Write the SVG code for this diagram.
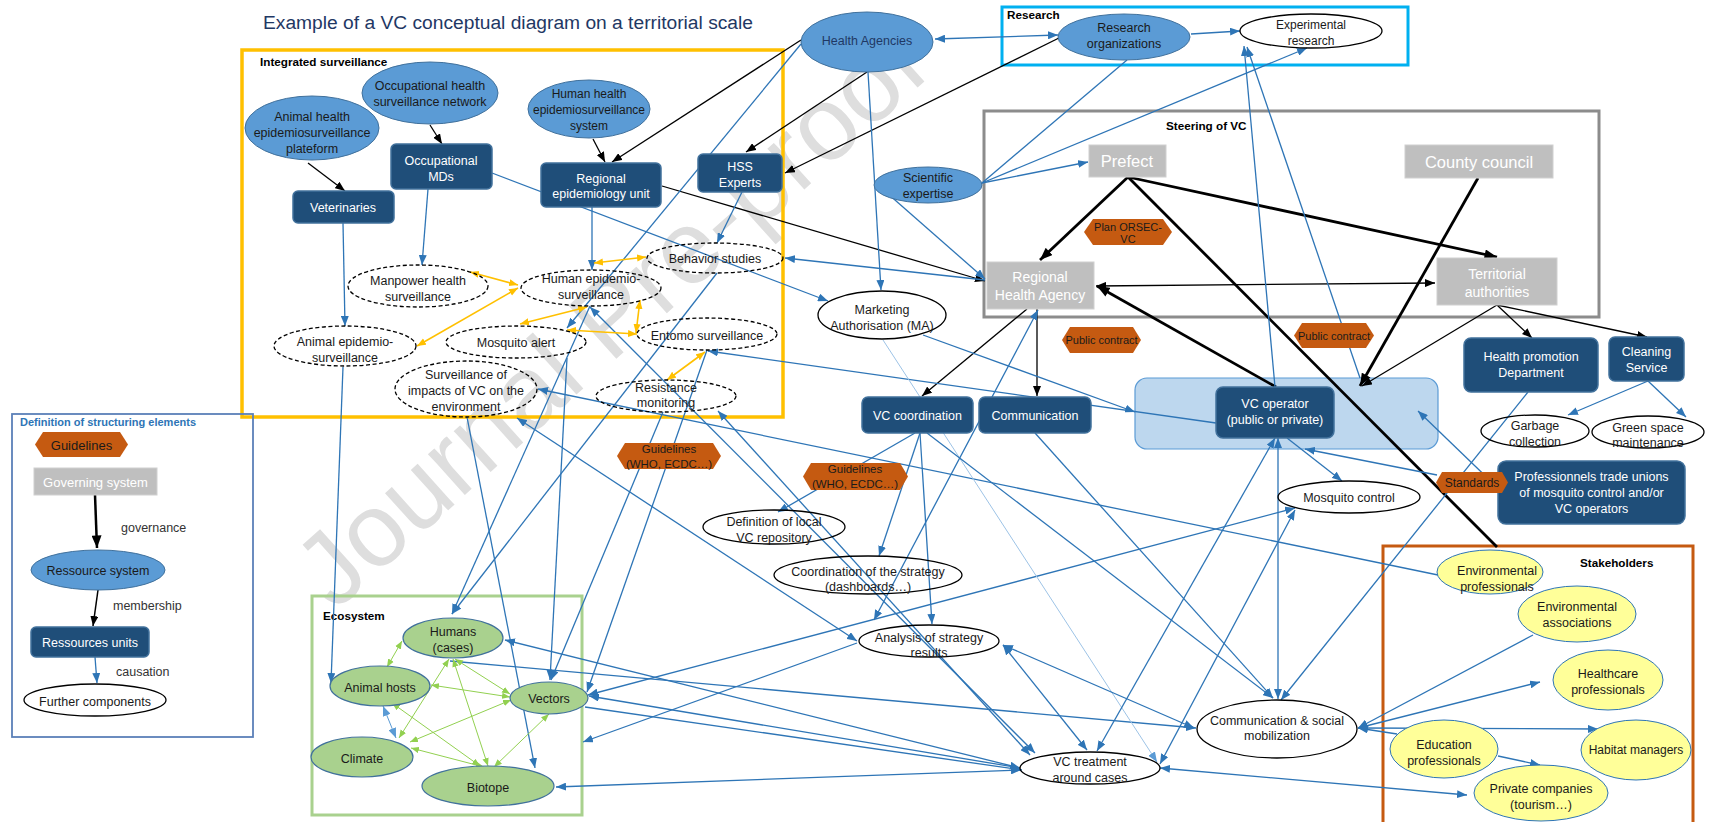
<svg xmlns="http://www.w3.org/2000/svg" width="1710" height="822" viewBox="0 0 1710 822">
<defs>
<marker id="ab" viewBox="0 0 10 8" refX="10" refY="4" markerWidth="10" markerHeight="8" markerUnits="userSpaceOnUse" orient="auto-start-reverse"><path d="M0,0L10,4L0,8z" fill="#2E75B6"/></marker>
<marker id="al" viewBox="0 0 10 8" refX="10" refY="4" markerWidth="10" markerHeight="8" markerUnits="userSpaceOnUse" orient="auto-start-reverse"><path d="M0,0L10,4L0,8z" fill="#5B9BD5"/></marker>
<marker id="ak" viewBox="0 0 10 8" refX="10" refY="4" markerWidth="10" markerHeight="8" markerUnits="userSpaceOnUse" orient="auto-start-reverse"><path d="M0,0L10,4L0,8z" fill="#000"/></marker>
<marker id="akt" viewBox="0 0 10 8" refX="10" refY="4" markerWidth="13" markerHeight="10" markerUnits="userSpaceOnUse" orient="auto-start-reverse"><path d="M0,0L10,4L0,8z" fill="#000"/></marker>
<marker id="ay" viewBox="0 0 10 8" refX="10" refY="4" markerWidth="9" markerHeight="8" markerUnits="userSpaceOnUse" orient="auto-start-reverse"><path d="M0,0L10,4L0,8z" fill="#FFC000"/></marker>
<marker id="ag" viewBox="0 0 10 8" refX="10" refY="4" markerWidth="8" markerHeight="7" markerUnits="userSpaceOnUse" orient="auto-start-reverse"><path d="M0,0L10,4L0,8z" fill="#92D050"/></marker>
</defs>
<style>
text{font-family:"Liberation Sans",Arial,sans-serif}
.t{font-size:12.5px;fill:#1a1a1a;text-anchor:middle}
.t12{font-size:12px;fill:#1a1a1a;text-anchor:middle}
.w{font-size:12.5px;fill:#fff;text-anchor:middle}
.s{font-size:11px;fill:#1a1a1a;text-anchor:middle}
.g{font-size:16.5px;fill:#fff;text-anchor:middle}
.gm{font-size:14px;fill:#fff;text-anchor:middle}
.lb{font-size:11.7px;font-weight:bold;fill:#000}
.lg{font-size:12.5px;fill:#333}
.mb{fill:#5B9BD5;stroke:#41719C;stroke-width:1}
.dk{fill:#1F4E79;stroke:#41719C;stroke-width:1.5}
.gy{fill:#BFBFBF;stroke:#D0D0D0;stroke-width:1}
.wh{fill:none;stroke:#000;stroke-width:1.3}
.ds{fill:none;stroke:#000;stroke-width:1.3;stroke-dasharray:4 2.5}
.or{fill:#C55A11}
.ye{fill:#FFFF99;stroke:#2E75B6;stroke-width:1}
.gn{fill:#A9D18E;stroke:#41719C;stroke-width:1.2}
.cb{fill:none;stroke:#2E75B6;stroke-width:1.3}
.cl{fill:none;stroke:#9DC3E6;stroke-width:1}
.ck{fill:none;stroke:#000;stroke-width:1.3}
.ckt{fill:none;stroke:#000;stroke-width:2.8}
.cy{fill:none;stroke:#FFC000;stroke-width:1.6}
.cg{fill:none;stroke:#92D050;stroke-width:1}
.fr{fill:none}
</style>

<text x="0" y="0" transform="translate(335,612) rotate(-42)" font-size="104" fill="#DEDEDE">Journal Pre-proof</text>

<text x="263" y="29" font-size="18" fill="#1F3864" textLength="490" lengthAdjust="spacingAndGlyphs">Example of a VC conceptual diagram on a territorial scale</text>

<g id="frames">
<g id="integrated-surveillance"><rect class="fr" x="242" y="50" width="541" height="367" stroke="#FFC000" stroke-width="3.5"/><text class="lb" x="260" y="66">Integrated surveillance</text></g>
<g id="research"><rect class="fr" x="1002" y="7" width="406" height="58" stroke="#00B0F0" stroke-width="3"/><text class="lb" x="1007" y="19">Research</text></g>
<g id="steering"><rect class="fr" x="984" y="111" width="615" height="206" stroke="#8C8C8C" stroke-width="3"/><text class="lb" x="1166" y="130">Steering of VC</text></g>
<g id="definition"><rect class="fr" x="12" y="414" width="241" height="323" stroke="#5B80B8" stroke-width="1.8"/><text x="20" y="426" font-size="11" font-weight="bold" fill="#2E75B6">Definition of structuring elements</text></g>
<g id="ecosystem"><rect class="fr" x="312" y="596" width="270" height="219" stroke="#A9D18E" stroke-width="3"/><text class="lb" x="323" y="620">Ecosystem</text></g>
<g id="stakeholders"><rect class="fr" x="1383" y="546" width="310" height="290" stroke="#C55A11" stroke-width="3"/><text class="lb" x="1580" y="567">Stakeholders</text></g>
<g id="vc-operator-area"><rect x="1135" y="378" width="303" height="71" rx="12" fill="#BDD7EE" stroke="#5B9BD5" stroke-width="1.2"/></g>
</g>

<g id="connectors">
<g id="black">
<path class="ck" d="M308,163L345,191" marker-end="url(#ak)"/>
<path class="ck" d="M430,125L442,144" marker-end="url(#ak)"/>
<path class="ck" d="M593,139L605,162" marker-end="url(#ak)"/>
<path class="ck" d="M801,40L612,162" marker-end="url(#ak)"/>
<path class="ck" d="M867,72L746,152" marker-end="url(#ak)"/>
<path class="ck" d="M1063,36L785,173" marker-end="url(#ak)"/>
<path class="ck" d="M662,186L985,281" marker-end="url(#ak)"/>
<path class="ck" d="M1096,286L1435,283" marker-start="url(#ak)" marker-end="url(#ak)"/>
<path class="ck" d="M1027,309L922,396" marker-end="url(#ak)"/>
<path class="ck" d="M1037,309L1037,396" marker-end="url(#ak)"/>
<path class="ck" d="M1497,305L1362,386" marker-end="url(#ak)"/>
<path class="ck" d="M1497,305L1532,338" marker-end="url(#ak)"/>
<path class="ck" d="M1497,305L1647,337" marker-end="url(#ak)"/>
<path class="ckt" d="M1128,177L1040,260" marker-end="url(#akt)"/>
<path class="ckt" d="M1128,177L1497,257" marker-end="url(#akt)"/>
<path class="ckt" d="M1128,177L1497,547"/>
<path class="ckt" d="M1478,178L1360,386" marker-end="url(#akt)"/>
<path class="ckt" d="M1276,387L1097,286" marker-end="url(#akt)"/>
</g>
<g id="blue">
<path class="cb" d="M343,223L345,326" marker-end="url(#ab)"/>
<path class="cb" d="M428,189L422,265" marker-end="url(#ab)"/>
<path class="cb" d="M492,173L828,301" marker-end="url(#ab)"/>
<path class="cb" d="M592,207L592,270" marker-end="url(#ab)"/>
<path class="cb" d="M742,192L717,243" marker-end="url(#ab)"/>
<path class="cb" d="M717,273L452,614" marker-end="url(#ab)"/>
<path class="cb" d="M590,306L452,614" marker-end="url(#ab)"/>
<path class="cb" d="M801,44L567,328" marker-end="url(#ab)"/>
<path class="cb" d="M868,72L881,290" marker-end="url(#ab)"/>
<path class="cb" d="M935,39L1058,35" marker-start="url(#ab)" marker-end="url(#ab)"/>
<path class="cb" d="M1191,34L1240,31" marker-end="url(#ab)"/>
<path class="cb" d="M1127,60L982,183"/>
<path class="cb" d="M982,183L1307,48" marker-end="url(#ab)"/>
<path class="cb" d="M982,183L1088,162" marker-end="url(#ab)"/>
<path class="cb" d="M887,193L985,279" marker-end="url(#ab)"/>
<path class="cb" d="M985,280L785,258" marker-end="url(#ab)"/>
<path class="cb" d="M1275,387L1244,46" marker-end="url(#ab)"/>
<path class="cb" d="M1360,378L1247,47" marker-end="url(#ab)"/>
<path class="cb" d="M923,335L1135,412" marker-end="url(#ab)"/>
<path class="cb" d="M1216,423L708,351" marker-end="url(#ab)"/>
<path class="cb" d="M1438,575L538,389" marker-end="url(#ab)"/>
<path class="cb" d="M343,367L331,683" marker-end="url(#ab)"/>
<path class="cb" d="M467,417L535,768" marker-end="url(#ab)"/>
<path class="cb" d="M567,358L550,680" marker-end="url(#ab)"/>
<path class="cb" d="M663,412L551,680" marker-end="url(#ab)"/>
<path class="cb" d="M707,350L587,692" marker-end="url(#ab)"/>
<path class="cb" d="M590,307L1035,753" marker-start="url(#ab)" marker-end="url(#ab)"/>
<path class="cb" d="M718,411L1030,755" marker-start="url(#ab)" marker-end="url(#ab)"/>
<path class="cb" d="M517,418L857,641" marker-start="url(#ab)" marker-end="url(#ab)"/>
<path class="cb" d="M857,643L583,742" marker-end="url(#ab)"/>
<path class="cb" d="M588,695L1295,508" marker-start="url(#ab)" marker-end="url(#ab)"/>
<path class="cb" d="M1020,768L505,640" marker-start="url(#ab)" marker-end="url(#ab)"/>
<path class="cb" d="M450,661L1196,728" marker-end="url(#ab)"/>
<path class="cb" d="M1020,768L589,696" marker-end="url(#ab)"/>
<path class="cb" d="M585,707L1022,770" marker-end="url(#ab)"/>
<path class="cb" d="M556,787L1021,770" marker-start="url(#ab)" marker-end="url(#ab)"/>
<path class="cb" d="M1160,768L1467,795" marker-start="url(#ab)" marker-end="url(#ab)"/>
<path class="cl" d="M883,340L1157,762" marker-end="url(#al)"/>
<path class="cb" d="M920,433L879,556" marker-end="url(#ab)"/>
<path class="cb" d="M920,433L932,624" marker-end="url(#ab)"/>
<path class="cb" d="M915,433L778,512" marker-end="url(#ab)"/>
<path class="cb" d="M927,433L1273,698" marker-end="url(#ab)"/>
<path class="cb" d="M1038,310L874,620" marker-start="url(#ab)" marker-end="url(#ab)"/>
<path class="cb" d="M1035,433L1273,698" marker-end="url(#ab)"/>
<path class="cb" d="M1278,438L1278,699" marker-start="url(#ab)" marker-end="url(#ab)"/>
<path class="cb" d="M1275,438L1097,751" marker-start="url(#ab)" marker-end="url(#ab)"/>
<path class="cb" d="M1295,510L1160,764" marker-start="url(#ab)" marker-end="url(#ab)"/>
<path class="cb" d="M1287,438L1342,481" marker-end="url(#ab)"/>
<path class="cb" d="M1437,475L1305,449" marker-end="url(#ab)"/>
<path class="cb" d="M1502,492L1418,411" marker-end="url(#ab)"/>
<path class="cb" d="M1648,381L1568,415" marker-end="url(#ab)"/>
<path class="cb" d="M1648,381L1686,417" marker-end="url(#ab)"/>
<path class="cb" d="M1528,392L1281,700" marker-end="url(#ab)"/>
<path class="cb" d="M1533,635L1358,728" marker-end="url(#ab)"/>
<path class="cb" d="M1358,728L1540,682" marker-end="url(#ab)"/>
<path class="cb" d="M1358,728L1598,729" marker-end="url(#ab)"/>
<path class="cb" d="M1397,734L1358,728" marker-end="url(#ab)"/>
<path class="cb" d="M1498,756L1540,765" marker-end="url(#ab)"/>
<path class="cb" d="M1003,645L1087,750" marker-start="url(#ab)" marker-end="url(#ab)"/>
<path class="cb" d="M1003,645L1194,728" marker-start="url(#ab)" marker-end="url(#ab)"/>
<path class="cb" d="M95,657L97,683" marker-end="url(#ab)"/>
</g>
<g id="yellow">
<path class="cy" d="M470,272L518,285" marker-start="url(#ay)" marker-end="url(#ay)"/>
<path class="cy" d="M594,263L646,257" marker-start="url(#ay)" marker-end="url(#ay)"/>
<path class="cy" d="M417,346L518,288" marker-start="url(#ay)" marker-end="url(#ay)"/>
<path class="cy" d="M587,307L520,324" marker-start="url(#ay)" marker-end="url(#ay)"/>
<path class="cy" d="M567,330L637,334" marker-start="url(#ay)" marker-end="url(#ay)"/>
<path class="cy" d="M640,300L636,333" marker-start="url(#ay)" marker-end="url(#ay)"/>
<path class="cy" d="M705,352L667,380" marker-start="url(#ay)" marker-end="url(#ay)"/>
</g>
<g id="green">
<path class="cg" d="M387,667L402,641" marker-start="url(#ag)" marker-end="url(#ag)"/>
<path class="cg" d="M510,697L431,685" stroke="#70AD47" stroke-width="1.3" marker-start="url(#ag)" marker-end="url(#ag)"/>
<path class="cg" d="M455,659L510,694" marker-start="url(#ag)" marker-end="url(#ag)"/>
<path class="cg" d="M453,659L488,766" marker-start="url(#ag)" marker-end="url(#ag)"/>
<path class="cg" d="M449,659L399,738" marker-start="url(#ag)" marker-end="url(#ag)"/>
<path class="cg" d="M411,748L484,767" marker-start="url(#ag)" marker-end="url(#ag)"/>
<path class="cg" d="M392,703L480,766" marker-start="url(#ag)" marker-end="url(#ag)"/>
<path class="cg" d="M410,742L511,700" marker-start="url(#ag)" marker-end="url(#ag)"/>
<path class="cg" d="M549,714L494,767" marker-start="url(#ag)" marker-end="url(#ag)"/>
<path d="M383,706L396,738" fill="none" stroke="#5B9BD5" stroke-width="1" marker-start="url(#al)" marker-end="url(#al)"/>
</g>
<g id="legend-links">
<path d="M95,495L97,548" fill="none" stroke="#000" stroke-width="2.5" marker-end="url(#akt)"/>
<path d="M98,590L93,626" fill="none" stroke="#000" stroke-width="1.5" marker-end="url(#ak)"/>
</g>
</g>

<g id="nodes">
<g id="animal-health-platform"><ellipse class="mb" cx="312" cy="128" rx="67" ry="32"/><text class="t" x="312" y="120.5">Animal health</text><text class="t" x="312" y="136.5">epidemiosurveillance</text><text class="t" x="312" y="152.5">plateform</text></g>
<g id="occupational-network"><ellipse class="mb" cx="430" cy="93" rx="68" ry="31"/><text class="t" x="430" y="89.5">Occupational health</text><text class="t" x="430" y="105.5">surveillance network</text></g>
<g id="occupational-mds"><rect class="dk" x="391" y="144" width="101" height="45" rx="5"/><text class="w" x="441" y="164.5">Occupational</text><text class="w" x="441" y="180.5">MDs</text></g>
<g id="veterinaries"><rect class="dk" x="293" y="191" width="101" height="32" rx="5"/><text class="w" x="343" y="211.5">Veterinaries</text></g>
<g id="human-health-system"><ellipse class="mb" cx="589" cy="109" rx="61" ry="29"/><text class="t12" x="589" y="97.5">Human health</text><text class="t12" x="589" y="113.5">epidemiosurveillance</text><text class="t12" x="589" y="130">system</text></g>
<g id="regional-epidemiology-unit"><rect class="dk" x="541" y="163" width="120" height="44" rx="5"/><text class="w" x="601" y="182.5">Regional</text><text class="w" x="601" y="197.5">epidemiology unit</text></g>
<g id="hss-experts"><rect class="dk" x="698" y="154" width="84" height="38" rx="5"/><text class="w" x="740" y="170.5">HSS</text><text class="w" x="740" y="186.5">Experts</text></g>
<g id="manpower"><ellipse class="ds" cx="418" cy="286" rx="70" ry="21"/><text class="t" x="418" y="284.5">Manpower health</text><text class="t" x="418" y="300.5">surveillance</text></g>
<g id="human-epi"><ellipse class="ds" cx="591" cy="288" rx="70" ry="18"/><text class="t" x="591" y="282.5">Human epidemio-</text><text class="t" x="591" y="298.5">surveillance</text></g>
<g id="behavior-studies"><ellipse class="ds" cx="715" cy="258" rx="68" ry="15"/><text class="t" x="715" y="262.5">Behavior studies</text></g>
<g id="animal-epi"><ellipse class="ds" cx="345" cy="346" rx="71" ry="20"/><text class="t" x="345" y="345.5">Animal epidemio-</text><text class="t" x="345" y="361.5">surveillance</text></g>
<g id="mosquito-alert"><ellipse class="ds" cx="516" cy="342" rx="70" ry="16"/><text class="t" x="516" y="346.5">Mosquito alert</text></g>
<g id="entomo"><ellipse class="ds" cx="707" cy="334" rx="70" ry="16"/><text class="t" x="707" y="339.5">Entomo surveillance</text></g>
<g id="surveillance-impacts"><ellipse class="ds" cx="466" cy="389" rx="71" ry="28"/><text class="t" x="466" y="378.5">Surveillance of</text><text class="t" x="466" y="394.5">impacts of VC on the</text><text class="t" x="466" y="410.5">environment</text></g>
<g id="resistance"><ellipse class="ds" cx="666" cy="396" rx="70" ry="16"/><text class="t" x="666" y="391.5">Resistance</text><text class="t" x="666" y="406.5">monitoring</text></g>

<g id="health-agencies"><ellipse class="mb" cx="867" cy="42" rx="66" ry="30"/><text x="867" y="44.5" font-size="12.5" fill="#1F3864" text-anchor="middle">Health Agencies</text></g>
<g id="research-organizations"><ellipse class="mb" cx="1124" cy="37" rx="66" ry="23"/><text class="t" x="1124" y="31.5">Research</text><text class="t" x="1124" y="47.5">organizations</text></g>
<g id="experimental-research"><ellipse class="wh" cx="1311" cy="31" rx="71" ry="17"/><text class="t12" x="1311" y="28.5">Experimental</text><text class="t12" x="1311" y="44.5">research</text></g>
<g id="scientific-expertise"><ellipse class="mb" cx="928" cy="185" rx="54" ry="18"/><text class="t" x="928" y="181.5">Scientific</text><text class="t" x="928" y="197.5">expertise</text></g>
<g id="prefect"><rect class="gy" x="1089" y="145" width="77" height="32"/><text class="g" x="1127" y="167">Prefect</text></g>
<g id="county-council"><rect class="gy" x="1405" y="145" width="148" height="33"/><text class="g" x="1479" y="167.5">County council</text></g>
<g id="plan-orsec"><polygon class="or" points="1084,232 1093,219 1163,219 1172,232 1163,245 1093,245"/><text class="s" x="1128" y="231">Plan ORSEC-</text><text class="s" x="1128" y="243">VC</text></g>
<g id="regional-health-agency"><rect class="gy" x="987" y="262" width="107" height="47"/><text class="gm" x="1040" y="282">Regional</text><text class="gm" x="1040" y="300">Health Agency</text></g>
<g id="territorial-authorities"><rect class="gy" x="1437" y="258" width="120" height="47"/><text class="gm" x="1497" y="279">Territorial</text><text class="gm" x="1497" y="297">authorities</text></g>
<g id="marketing-authorisation"><ellipse class="wh" cx="882" cy="315" rx="64" ry="24"/><text class="t" x="882" y="313.5">Marketing</text><text class="t" x="882" y="329.5">Authorisation (MA)</text></g>
<g id="public-contract-1"><polygon class="or" points="1062,340 1070,327 1133,327 1141,340 1133,353 1070,353"/><text class="s" x="1101.5" y="344">Public contract</text></g>
<g id="public-contract-2"><polygon class="or" points="1294,335.5 1302,323 1366,323 1374,335.5 1366,348 1302,348"/><text class="s" x="1334" y="339.5">Public contract</text></g>
<g id="vc-coordination"><rect class="dk" x="862" y="397" width="111" height="36" rx="6"/><text class="w" x="917.5" y="419.5">VC coordination</text></g>
<g id="communication"><rect class="dk" x="979" y="397" width="112" height="36" rx="6"/><text class="w" x="1035" y="419.5">Communication</text></g>
<g id="vc-operator"><rect class="dk" x="1216" y="387" width="118" height="51" rx="7"/><text class="w" x="1275" y="407.5">VC operator</text><text class="w" x="1275" y="423.5">(public or private)</text></g>
<g id="health-promotion"><rect class="dk" x="1464" y="338" width="134" height="54" rx="7"/><text class="w" x="1531" y="360.5">Health promotion</text><text class="w" x="1531" y="376.5">Department</text></g>
<g id="cleaning-service"><rect class="dk" x="1609" y="337" width="75" height="44" rx="6"/><text class="w" x="1646.5" y="355.5">Cleaning</text><text class="w" x="1646.5" y="371.5">Service</text></g>
<g id="garbage-collection"><ellipse class="wh" cx="1535" cy="431" rx="54" ry="16"/><text class="t" x="1535" y="429.5">Garbage</text><text class="t" x="1535" y="445.5">collection</text></g>
<g id="green-space"><ellipse class="wh" cx="1648" cy="432" rx="56" ry="16"/><text class="t" x="1648" y="431.5">Green space</text><text class="t" x="1648" y="446.5">maintenance</text></g>
<g id="professional-unions"><rect class="dk" x="1498" y="461" width="187" height="63" rx="8"/><text class="w" x="1591.5" y="480.5">Professionnels trade unions</text><text class="w" x="1591.5" y="496.5">of mosquito control and/or</text><text class="w" x="1591.5" y="512.5">VC operators</text></g>
<g id="standards"><polygon class="or" points="1436,482.5 1442,472 1502,472 1508,482.5 1502,493 1442,493"/><text x="1472" y="486.5" font-size="12" fill="#1a1a1a" text-anchor="middle">Standards</text></g>
<g id="mosquito-control"><ellipse class="wh" cx="1349" cy="497" rx="71" ry="16"/><text class="t" x="1349" y="501.5">Mosquito control</text></g>
<g id="guidelines-1"><polygon class="or" points="617,456 625,443 713,443 721,456 713,469 625,469"/><text x="669" y="453" font-size="11.5" fill="#1a1a1a" text-anchor="middle">Guidelines</text><text x="669" y="468" font-size="11.5" fill="#1a1a1a" text-anchor="middle">(WHO, ECDC…)</text></g>
<g id="guidelines-2"><polygon class="or" points="803,476.5 811,463 900,463 908,476.5 900,490 811,490"/><text x="855" y="473" font-size="11.5" fill="#1a1a1a" text-anchor="middle">Guidelines</text><text x="855" y="488" font-size="11.5" fill="#1a1a1a" text-anchor="middle">(WHO, ECDC…)</text></g>
<g id="definition-local"><ellipse class="wh" cx="774" cy="527" rx="71" ry="17"/><text class="t" x="774" y="525.5">Definition of local</text><text class="t" x="774" y="541.5">VC repository</text></g>
<g id="coordination-strategy"><ellipse class="wh" cx="868" cy="575" rx="94" ry="19"/><text class="t" x="868" y="575.5">Coordination of the strategy</text><text class="t" x="868" y="590.5">(dashboards…)</text></g>
<g id="analysis"><ellipse class="wh" cx="929" cy="641" rx="70" ry="16"/><text class="t" x="929" y="641.5">Analysis of strategy</text><text class="t" x="929" y="656.5">results</text></g>
<g id="vc-treatment"><ellipse class="wh" cx="1090" cy="768" rx="70" ry="16"/><text class="t" x="1090" y="765.5">VC treatment</text><text class="t" x="1090" y="781.5">around cases</text></g>
<g id="communication-social"><ellipse class="wh" cx="1277" cy="729" rx="80" ry="29"/><text class="t" x="1277" y="724.5">Communication &amp; social</text><text class="t" x="1277" y="739.5">mobilization</text></g>

<g id="environmental-professionals"><ellipse class="ye" cx="1490" cy="572" rx="53" ry="22"/><text class="t" x="1497" y="574.5">Environmental</text><text class="t" x="1497" y="590.5">professionals</text></g>
<g id="environmental-associations"><ellipse class="ye" cx="1577" cy="614" rx="59" ry="28"/><text class="t" x="1577" y="610.5">Environmental</text><text class="t" x="1577" y="626.5">associations</text></g>
<g id="healthcare-professionals"><ellipse class="ye" cx="1608" cy="680" rx="55" ry="30"/><text class="t" x="1608" y="677.5">Healthcare</text><text class="t" x="1608" y="693.5">professionals</text></g>
<g id="habitat-managers"><ellipse class="ye" cx="1636" cy="750" rx="55" ry="30"/><text class="t12" x="1636" y="753.5">Habitat managers</text></g>
<g id="education-professionals"><ellipse class="ye" cx="1444" cy="749" rx="54" ry="29"/><text class="t" x="1444" y="748.5">Education</text><text class="t" x="1444" y="764.5">professionals</text></g>
<g id="private-companies"><ellipse class="ye" cx="1541" cy="793" rx="67" ry="28"/><text class="t" x="1541" y="792.5">Private companies</text><text class="t" x="1541" y="808.5">(tourism…)</text></g>

<g id="humans"><ellipse class="gn" cx="453" cy="638" rx="50" ry="20"/><text class="t" x="453" y="635.5">Humans</text><text class="t" x="453" y="651.5">(cases)</text></g>
<g id="animal-hosts"><ellipse class="gn" cx="380" cy="686" rx="50" ry="20"/><text class="t" x="380" y="691.5">Animal hosts</text></g>
<g id="vectors"><ellipse class="gn" cx="549" cy="698" rx="39" ry="16"/><text class="t" x="549" y="702.5">Vectors</text></g>
<g id="climate"><ellipse class="gn" cx="362" cy="757" rx="51" ry="20"/><text class="t" x="362" y="762.5">Climate</text></g>
<g id="biotope"><ellipse class="gn" cx="488" cy="786" rx="66" ry="20"/><text class="t" x="488" y="791.5">Biotope</text></g>

<g id="legend-guidelines"><polygon class="or" points="35,444.5 43,432 120,432 128,444.5 120,457 43,457"/><text x="81.5" y="449.5" font-size="13" fill="#1a1a1a" text-anchor="middle">Guidelines</text></g>
<g id="legend-governing"><rect class="gy" x="34" y="468" width="123" height="27"/><text x="95.5" y="486.5" font-size="13" fill="#fff" text-anchor="middle">Governing system</text></g>
<g id="legend-resource-system"><ellipse class="mb" cx="98" cy="570" rx="67" ry="20"/><text class="t" x="98" y="574.5">Ressource system</text></g>
<g id="legend-resource-units"><rect class="dk" x="31" y="627" width="118" height="30" rx="5"/><text class="w" x="90" y="646.5">Ressources units</text></g>
<g id="legend-further"><ellipse class="wh" cx="95" cy="700" rx="71" ry="16"/><text class="t" x="95" y="705.5">Further components</text></g>
<g id="legend-labels"><text class="lg" x="121" y="531.5">governance</text><text class="lg" x="113" y="609.5">membership</text><text class="lg" x="116" y="675.5">causation</text></g>
</g>
</svg>
